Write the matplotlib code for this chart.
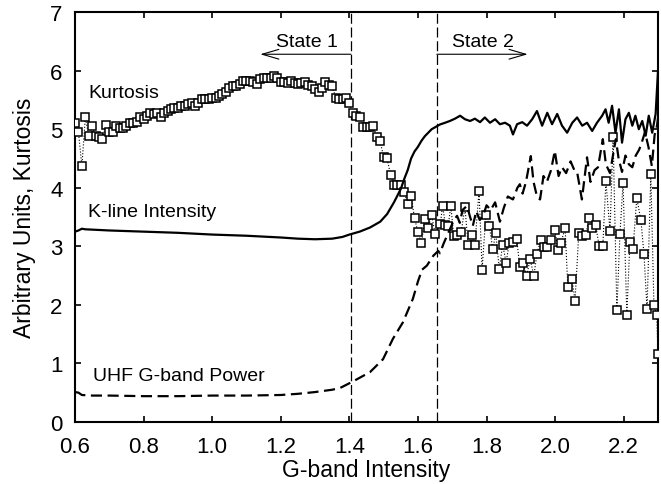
import matplotlib
matplotlib.use("Agg")
import matplotlib.pyplot as plt

plt.rcParams['font.family'] = ['Liberation Sans', 'DejaVu Sans']

# K-line intensity (solid)
kline_x = [0.60, 0.61, 0.62, 0.63, 0.70, 0.80, 0.90, 1.00, 1.10, 1.20, 1.25, 1.30,
           1.35, 1.38, 1.40, 1.43, 1.46, 1.49, 1.51, 1.53, 1.55, 1.56, 1.57, 1.58,
           1.59, 1.60, 1.61, 1.62, 1.64, 1.664,
           1.679, 1.693, 1.708, 1.723, 1.737, 1.752, 1.766, 1.781, 1.795, 1.810,
           1.825, 1.839, 1.854, 1.868, 1.877, 1.889, 1.904, 1.918, 1.933, 1.947,
           1.962, 1.977, 1.991, 2.006, 2.020, 2.035, 2.050, 2.064, 2.079, 2.093,
           2.108, 2.122, 2.137, 2.147, 2.156, 2.166, 2.176, 2.186, 2.195, 2.205,
           2.215, 2.225, 2.234, 2.244, 2.254, 2.264, 2.273, 2.283, 2.293, 2.30]
kline_y = [3.25, 3.27, 3.30, 3.29, 3.27, 3.25, 3.23, 3.20, 3.18, 3.15, 3.13, 3.12,
           3.13, 3.16, 3.20, 3.25, 3.32, 3.42, 3.55, 3.75, 3.98, 4.15, 4.30, 4.50,
           4.62, 4.70, 4.80, 4.88, 5.00, 5.08,
           5.11, 5.14, 5.18, 5.23, 5.17, 5.14, 5.18, 5.12, 5.20, 5.11,
           5.17, 5.085, 5.11, 5.06, 4.91, 5.085, 5.12, 5.06, 5.17, 5.31,
           5.06, 5.28, 5.085, 5.26, 5.06, 4.94, 5.11, 5.20, 5.06, 5.11,
           4.97, 5.11, 5.23, 5.34, 5.11, 5.40, 4.94, 5.34, 4.77, 5.17,
           5.28, 5.06, 5.23, 5.00, 5.14, 4.89, 5.23, 4.94, 5.26, 6.00]

# UHF G-band power (dashed)
uhf_x = [0.60, 0.61, 0.62, 0.65, 0.70, 0.80, 0.90, 1.00, 1.10, 1.20, 1.25, 1.30,
         1.35, 1.373, 1.41, 1.46, 1.498, 1.527, 1.556, 1.585, 1.60, 1.612, 1.626,
         1.645, 1.659,
         1.664, 1.675, 1.693, 1.705, 1.714, 1.722, 1.730, 1.743, 1.752, 1.760,
         1.770, 1.780, 1.790, 1.800, 1.812, 1.825, 1.839, 1.850, 1.862, 1.877,
         1.890, 1.897, 1.905, 1.915, 1.929, 1.937, 1.947, 1.956, 1.966, 1.976,
         1.988, 1.999, 2.010, 2.020, 2.032, 2.045, 2.056, 2.064, 2.078, 2.093,
         2.103, 2.115, 2.125, 2.139, 2.148, 2.160, 2.170, 2.177, 2.185, 2.195,
         2.205, 2.215, 2.225, 2.235, 2.245, 2.253, 2.262, 2.272, 2.282, 2.290,
         2.297, 2.30]
uhf_y = [0.51, 0.50, 0.46, 0.45, 0.45, 0.44, 0.44, 0.45, 0.45, 0.46, 0.48, 0.51,
         0.55, 0.58, 0.69, 0.85, 1.07, 1.42, 1.70, 2.10, 2.40, 2.60, 2.67,
         2.84, 2.92,
         2.88, 3.05, 3.29, 3.45, 3.52, 3.40, 3.62, 3.69, 3.50, 3.35,
         3.60, 3.45, 3.52, 3.70, 3.62, 3.75, 3.42, 3.65, 3.85, 3.80,
         4.00, 4.06, 3.90, 4.10, 4.54, 4.10, 3.85, 3.80, 4.20, 4.10,
         4.30, 4.63, 4.20, 4.35, 4.25, 4.45, 4.30, 4.27, 3.80, 4.52,
         4.10, 4.30, 4.35, 4.83, 4.40, 4.25, 4.60, 4.83, 4.50, 4.27,
         4.55, 4.40, 4.35, 4.55, 4.65, 4.78, 4.95, 4.70, 4.37, 4.90,
         5.06, 5.20]

# Kurtosis (open squares, dotted)
kurt_x = [0.60, 0.61, 0.62, 0.63, 0.64, 0.65, 0.66, 0.67, 0.68, 0.69,
          0.70, 0.71, 0.72, 0.73, 0.74, 0.75, 0.76, 0.77, 0.78, 0.79,
          0.80, 0.81, 0.82, 0.83, 0.84, 0.85, 0.86, 0.87, 0.88, 0.89,
          0.90, 0.91, 0.92, 0.93, 0.94, 0.95, 0.96, 0.97, 0.98, 0.99,
          1.00, 1.01, 1.02, 1.03, 1.04, 1.05, 1.06, 1.07, 1.08, 1.09,
          1.10, 1.11, 1.12, 1.13, 1.14, 1.15, 1.16, 1.17, 1.18, 1.19,
          1.20, 1.21, 1.22, 1.23, 1.24, 1.25, 1.26, 1.27, 1.28, 1.29,
          1.30, 1.31, 1.32, 1.33, 1.34, 1.35, 1.36, 1.37, 1.38, 1.39,
          1.40, 1.41, 1.42, 1.43, 1.44, 1.45, 1.46, 1.47, 1.48, 1.49,
          1.50, 1.51, 1.52, 1.53, 1.54, 1.55, 1.56, 1.57, 1.58, 1.59,
          1.60, 1.61, 1.62, 1.63, 1.64, 1.65,
          1.665, 1.672, 1.680, 1.688, 1.696, 1.704, 1.715, 1.726, 1.737, 1.746,
          1.757, 1.766, 1.778, 1.787, 1.798, 1.808, 1.818, 1.827, 1.837, 1.847,
          1.857, 1.866, 1.877, 1.888, 1.897, 1.906, 1.917, 1.927, 1.938, 1.947,
          1.958, 1.968, 1.977, 1.988, 1.999, 2.008, 2.017, 2.029, 2.037, 2.049,
          2.058, 2.069, 2.078, 2.090, 2.098, 2.107, 2.118, 2.128, 2.139, 2.148,
          2.160, 2.169, 2.180, 2.189, 2.198, 2.209, 2.218, 2.227, 2.238, 2.250,
          2.259, 2.268, 2.279, 2.288, 2.296, 2.300]
kurt_y = [5.11, 4.95, 4.37, 5.20, 4.88, 5.05, 4.88, 4.86, 4.83, 5.07,
          4.95, 4.95, 5.05, 5.02, 5.02, 5.05, 5.11, 5.11, 5.12, 5.20,
          5.18, 5.22, 5.28, 5.26, 5.27, 5.21, 5.28, 5.31, 5.35, 5.36,
          5.37, 5.39, 5.40, 5.43, 5.45, 5.39, 5.45, 5.52, 5.52, 5.52,
          5.54, 5.54, 5.57, 5.60, 5.64, 5.70, 5.73, 5.74, 5.78, 5.82,
          5.82, 5.82, 5.80, 5.78, 5.85, 5.88, 5.88, 5.88, 5.91, 5.88,
          5.81, 5.80, 5.79, 5.83, 5.79, 5.77, 5.79, 5.80, 5.75, 5.73,
          5.69, 5.63, 5.70, 5.80, 5.76, 5.74, 5.54, 5.51, 5.52, 5.54,
          5.44, 5.28, 5.22, 5.20, 5.03, 5.04, 5.04, 5.05, 4.87, 4.79,
          4.52, 4.50, 4.22, 4.04, 4.04, 4.05, 3.93, 3.72, 3.86, 3.48,
          3.24, 3.05, 3.46, 3.32, 3.53, 3.21,
          3.38, 3.69, 3.36, 3.35, 3.69, 3.18, 3.19, 3.24, 3.67, 3.03,
          3.19, 3.03, 3.95, 2.60, 3.54, 3.35, 2.95, 3.22, 2.61, 3.03,
          2.72, 3.05, 3.08, 3.12, 2.64, 2.72, 2.50, 2.78, 2.50, 2.87,
          3.11, 2.99, 2.99, 3.11, 3.28, 2.94, 3.05, 3.32, 2.30, 2.44,
          2.07, 3.23, 3.18, 3.20, 3.48, 3.32, 3.37, 3.01, 3.01, 4.11,
          3.26, 4.86, 1.91, 3.21, 4.08, 1.83, 3.07, 2.95, 3.82, 3.45,
          2.87, 1.93, 4.23, 2.00, 1.83, 1.16]

state_bounds = [1.405, 1.655]

fig = plt.figure(figsize=(6.61, 4.85), dpi=100)
ax = fig.add_axes([0.1135, 0.128, 0.882, 0.845])

ax.plot(kurt_x, kurt_y, color='black', lw=0.8, ls=':', marker='s',
        markersize=5.3, markerfacecolor='white', markeredgecolor='black',
        markeredgewidth=1.1, zorder=3)
ax.plot(kline_x, kline_y, color='black', lw=1.6, zorder=4)
ax.plot(uhf_x, uhf_y, color='black', lw=1.6, dashes=(5, 2.5), zorder=4)

for xb in state_bounds:
    ax.axvline(xb, color='black', lw=0.9, dashes=(8, 3), zorder=2)

ax.annotate('', xy=(1.14, 6.28), xytext=(state_bounds[0], 6.28),
            arrowprops=dict(arrowstyle='->,head_length=1.2,head_width=0.35',
                            lw=0.8, color='black', shrinkA=0, shrinkB=0))
ax.annotate('', xy=(1.92, 6.28), xytext=(state_bounds[1], 6.28),
            arrowprops=dict(arrowstyle='->,head_length=1.2,head_width=0.35',
                            lw=0.8, color='black', shrinkA=0, shrinkB=0))
ax.text(1.367, 6.5, 'State 1', fontsize=14, ha='right', va='center')
ax.text(1.699, 6.5, 'State 2', fontsize=14, ha='left', va='center')

ax.text(0.638, 5.63, 'Kurtosis', fontsize=14, ha='left', va='center')
ax.text(0.638, 3.6, 'K-line Intensity', fontsize=14, ha='left', va='center')
ax.text(0.652, 0.785, 'UHF G-band Power', fontsize=14, ha='left', va='center')

ax.set_xlim(0.6, 2.3)
ax.set_ylim(0, 7)
ax.set_xticks([0.6, 0.8, 1.0, 1.2, 1.4, 1.6, 1.8, 2.0, 2.2])
ax.set_xticklabels(['0.6', '0.8', '1.0', '1.2', '1.4', '1.6', '1.8', '2.0', '2.2'])
ax.set_yticks(range(0, 8))
ax.tick_params(direction='in', top=True, right=True, length=4, width=1.2,
               labelsize=16)
ax.tick_params(axis='x', pad=10)
ax.tick_params(axis='y', pad=9)
for sp in ax.spines.values():
    sp.set_linewidth(1.5)

ax.set_xlabel('G-band Intensity', fontsize=16.5, labelpad=1)
ax.set_ylabel('Arbitrary Units, Kurtosis', fontsize=16.5, labelpad=10)

fig.savefig('out.png', dpi=100)
